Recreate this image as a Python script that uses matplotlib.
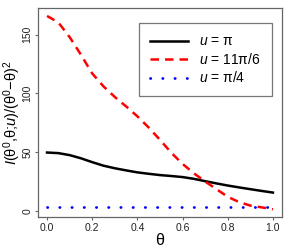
import matplotlib
matplotlib.use("Agg")
import matplotlib.pyplot as plt

plt.rcParams["font.family"] = ["Liberation Sans", "DejaVu Sans"]
plt.rcParams["mathtext.fontset"] = "custom"
plt.rcParams["mathtext.rm"] = "Liberation Sans"
plt.rcParams["mathtext.it"] = "Liberation Sans:italic"

theta = [0.0, 0.05, 0.1, 0.15, 0.2, 0.25, 0.3, 0.35, 0.4, 0.45, 0.5,
         0.55, 0.6, 0.65, 0.7, 0.75, 0.8, 0.85, 0.9, 0.95, 1.0]
u_pi = [49.7, 49.2, 47.5, 44.8, 41.5, 38.5, 36.3, 34.5, 32.8, 31.6, 30.5,
        29.7, 28.8, 27.3, 25.3, 23.4, 21.6, 20.0, 18.5, 17.0, 15.6]
u_11pi6 = [166, 160.5, 148, 133, 117, 106, 97, 89, 80.5, 71, 60.5,
           49.5, 40, 32, 25, 18.5, 12, 7.5, 4.5, 3.0, 1.4]
u_pi4 = [3.4] * len(theta)

labels = [r"$u$ = π", r"$u$ = 11π/6", r"$u$ = π/4"]

fig = plt.figure(figsize=(2.91, 2.49), dpi=100)
ax = fig.add_axes([0.1306, 0.1285, 0.969 - 0.1306, 0.968 - 0.1285])

ax.plot(theta, u_pi, color="black", lw=1.8, label=labels[0])
ax.plot(theta, u_11pi6, color="red", lw=1.8, dashes=(3.4, 2.4), label=labels[1])
ax.plot(theta, u_pi4, color="blue", lw=2.0, linestyle=(0, (0.1, 4.3)),
        dash_capstyle="round", label=labels[2])

ax.set_xlim(-0.04, 1.04)
ax.set_ylim(-5.2, 172.8)
ax.set_xticks([0.0, 0.2, 0.4, 0.6, 0.8, 1.0])
ax.set_xticklabels(["0.0", "0.2", "0.4", "0.6", "0.8", "1.0"])
ax.set_yticks([0, 50, 100, 150])

for s in ax.spines.values():
    s.set_color("#666666")
    s.set_linewidth(0.9)
ax.tick_params(colors="#666666", labelcolor="#222222", labelsize=7.5,
               length=2.5, width=0.8, pad=1.5)
ax.tick_params(axis="y", labelrotation=90)
for lab in ax.get_yticklabels():
    lab.set_va("center")

ax.set_xlabel("θ", fontsize=11.5)
ax.xaxis.set_label_coords(0.5, -0.075)
ax.set_ylabel(r"$I$(θ$^0$,θ;$u$)/(θ$^0$−θ)$^2$", fontsize=10.5)
ax.yaxis.set_label_coords(-0.06, 0.5)

leg = ax.legend(loc="upper right", bbox_to_anchor=(0.9337, 0.9064),
                bbox_transform=fig.transFigure, borderaxespad=0,
                fontsize=10, handlelength=2.7, handletextpad=0.8,
                labelspacing=0.25, borderpad=0.8, fancybox=False,
                framealpha=1, edgecolor="#777777")
leg.get_frame().set_linewidth(0.9)

fig.savefig("out.png", dpi=100)
